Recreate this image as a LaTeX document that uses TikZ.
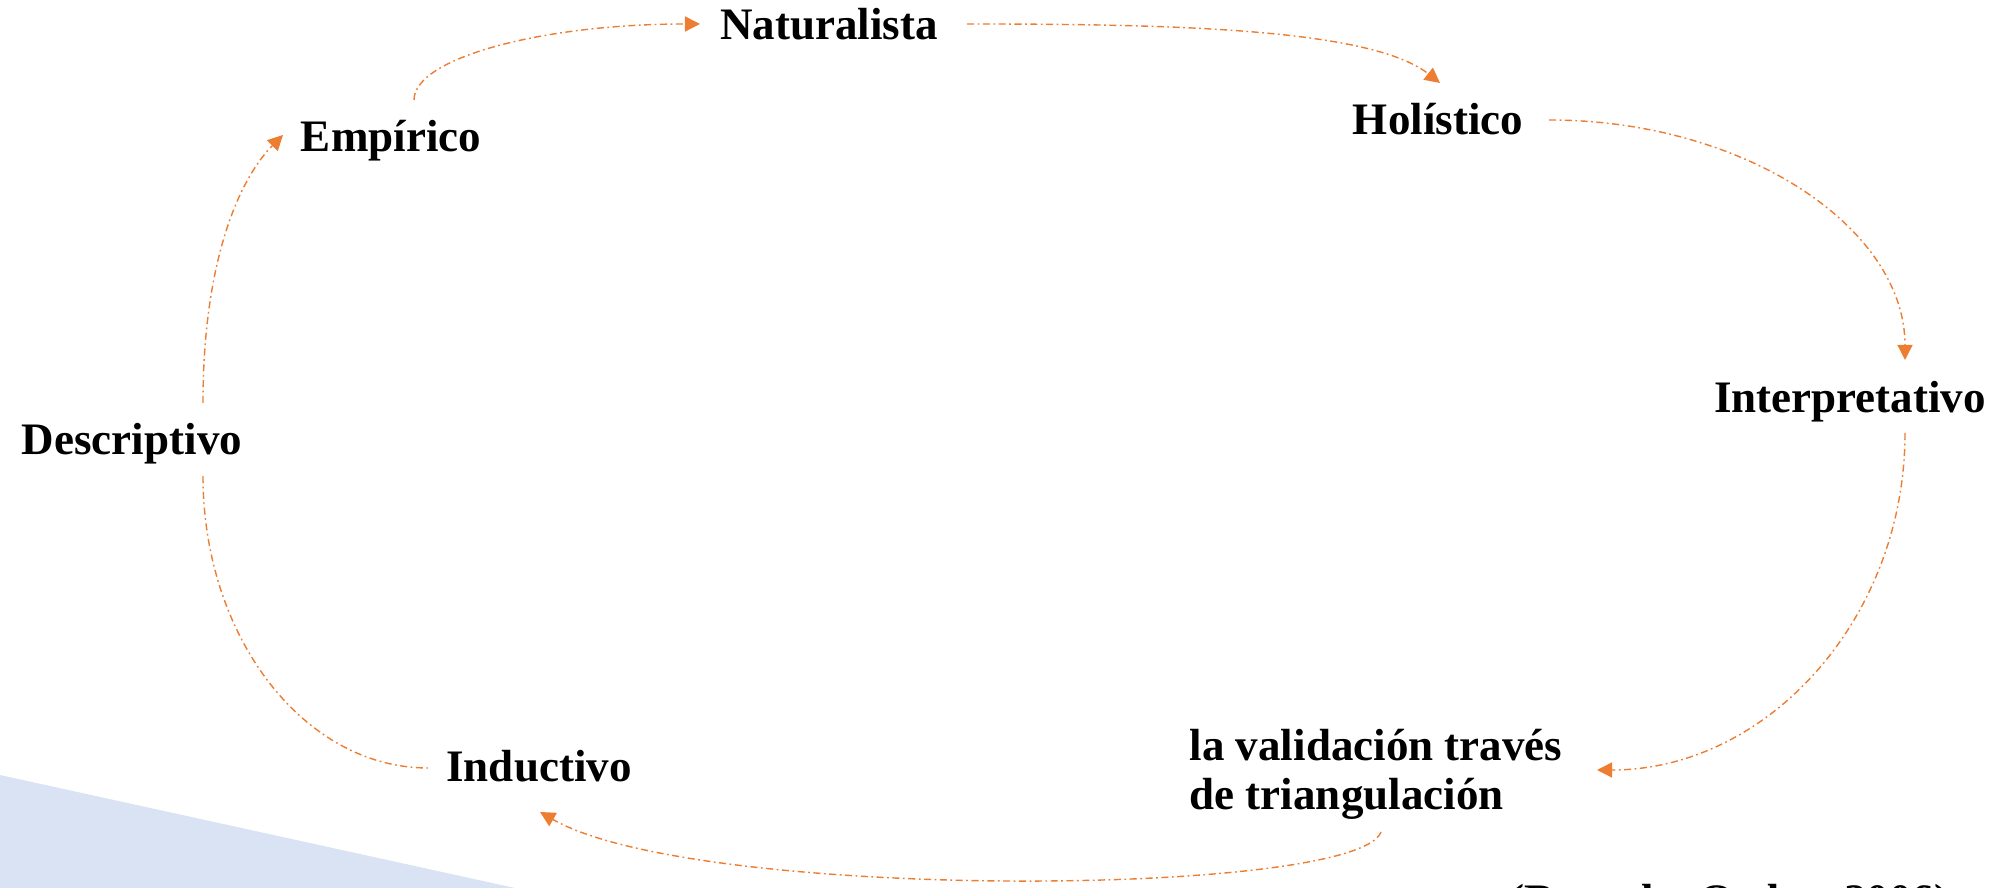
\documentclass[tikz,border=0pt]{standalone}
\usepackage{fontspec}
\setmainfont{Liberation Serif}
\usetikzlibrary{arrows.meta}
\definecolor{flecha}{HTML}{ED7D31}
\definecolor{fondo}{HTML}{DAE3F3}

\begin{document}
\begin{tikzpicture}[x=0.01cm, y=0.01cm,
    concepto/.style={font=\bfseries\fontsize{12.8}{14.2}\selectfont, inner sep=0pt},
    flujo/.style={draw=flecha, line width=0.4pt, dash pattern=on 2pt off 1pt on 0.5pt off 1pt,
      -{Triangle[length=4.3pt, width=4.3pt]}},
    enlace/.style={flujo, -}]
    \useasboundingbox (0,0) rectangle (2005,888);

    % Draw the background band
    \fill[fondo] (0,113) -- (515,0) -- (0,0) -- cycle;

    % Add the concepts
    \node[concepto, anchor=base] (nat) at (829,848) {Naturalista};
    \node[concepto, anchor=base] (emp) at (391,736) {Empírico};
    \node[concepto, anchor=base] (hol) at (1438,753) {Holístico};
    \node[concepto, anchor=base] (int) at (1850,475) {Interpretativo};
    \node[concepto, anchor=base] (des) at (132,433) {Descriptivo};
    \node[concepto, anchor=base] (ind) at (539,106) {Inductivo};
    \node[concepto, anchor=base west, align=left] (val) at (1189,78) {la validación través\\de triangulación};
    \node[concepto, anchor=base east] (cita) at (1950,-28) {(Bernal y Ordaz, 2006)};

    % Draw the cycle
    \draw[flujo] ([shift={(23,52)}]emp.base) .. controls +(0,42) and +(-158,0) .. ([shift={(-129,16)}]nat.base);
    \draw[flujo] ([shift={(138,16)}]nat.base) .. controls +(200,0) and +(-70,55) .. ([shift={(2,52)}]hol.base);
    \draw[flujo] ([shift={(111,15)}]hol.base) .. controls +(196,0) and +(0,132) .. ([shift={(55,53)}]int.base);
    \draw[flujo] ([shift={(55,-20)}]int.base) .. controls +(0,-186) and +(170,0) .. ([shift={(408,40)}]val.base west);
    \draw[flujo] ([shift={(192,-22)}]val.base west) .. controls +(-24,-65) and +(156,-90) .. ([shift={(1,-30)}]ind.base);
    \draw[enlace] ([shift={(71,-21)}]des.base) .. controls +(0,-161) and +(-124,0) .. ([shift={(-111,14)}]ind.base);
    \draw[flujo] ([shift={(71,52)}]des.base) .. controls +(0,150) and +(-40,-40) .. ([shift={(-108,17)}]emp.base);
\end{tikzpicture}
\end{document}
